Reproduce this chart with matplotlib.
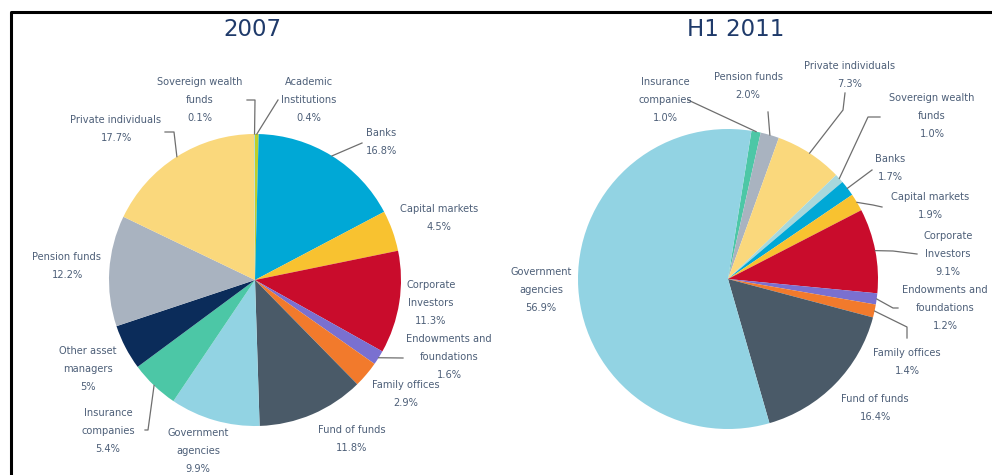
import matplotlib
matplotlib.use('Agg')
import matplotlib.pyplot as plt
import numpy as np

W, H = 992, 475

# 2007 breakdown, clockwise from 12 o'clock
cats_2007 = ['Academic\nInstitutions', 'Banks', 'Capital markets', 'Corporate\nInvestors',
             'Endowments and\nfoundations', 'Family offices', 'Fund of funds',
             'Government\nagencies', 'Insurance\ncompanies', 'Other asset\nmanagers',
             'Pension funds', 'Private individuals', 'Sovereign wealth\nfunds']
vals_2007 = [0.4, 16.8, 4.5, 11.3, 1.6, 2.9, 11.8, 9.9, 5.4, 5.0, 12.2, 17.7, 0.1]
pct_2007 = ['0.4%', '16.8%', '4.5%', '11.3%', '1.6%', '2.9%', '11.8%', '9.9%',
            '5.4%', '5%', '12.2%', '17.7%', '0.1%']
cols_2007 = ['#bccf2c', '#00a8d6', '#f8c230', '#c90c2c', '#7a70d0', '#f27a2c', '#4a5a68',
             '#92d3e3', '#4cc7a6', '#0b2c5a', '#a9b3c0', '#fad87c', '#a8d8dc']

# H1 2011 breakdown, clockwise
cats_2011 = ['Insurance\ncompanies', 'Pension funds', 'Private individuals',
             'Sovereign wealth\nfunds', 'Banks', 'Capital markets', 'Corporate\nInvestors',
             'Endowments and\nfoundations', 'Family offices', 'Fund of funds',
             'Government\nagencies']
vals_2011 = [1.0, 2.0, 7.3, 1.0, 1.7, 1.9, 9.1, 1.2, 1.4, 16.4, 56.9]
pct_2011 = ['1.0%', '2.0%', '7.3%', '1.0%', '1.7%', '1.9%', '9.1%', '1.2%', '1.4%',
            '16.4%', '56.9%']
cols_2011 = ['#4cc7a6', '#a9b3c0', '#fad87c', '#a8d8dc', '#00a8d6', '#f8c230', '#c90c2c',
             '#7a70d0', '#f27a2c', '#4a5a68', '#92d3e3']

# label centre (px) and leader line points (px), line ends on the wedge
lay_2007 = [
    ((309, 100), [(278, 100)]),
    ((381, 142), [(362, 143)]),
    ((439, 218), None),
    ((431, 303), None),
    ((449, 357), [(403, 358)]),
    ((406, 394), None),
    ((352, 439), None),
    ((198, 451), None),
    ((108, 431), [(145, 430), (148, 430)]),
    ((88, 369), None),
    ((67, 266), None),
    ((116, 129), [(165, 132), (174, 132)]),
    ((200, 100), [(247, 100), (255, 100)]),
]
lay_2011 = [
    ((665, 100), [(688, 100)]),
    ((748, 86), [(768, 112)]),
    ((850, 75), [(845, 93), (843, 110)]),
    ((932, 116), [(880, 117), (868, 117)]),
    ((890, 168), [(872, 170)]),
    ((930, 206), [(882, 207), (873, 205)]),
    ((948, 254), [(917, 254), (893, 251)]),
    ((945, 308), [(898, 308), (893, 308)]),
    ((907, 362), [(907, 338), (907, 327)]),
    ((875, 408), None),
    ((541, 290), None),
]

TXT = '#4d5f78'
LINE = '#6e6e6e'

fig = plt.figure(figsize=(W / 100, H / 100), dpi=100)
ax = fig.add_axes([0, 0, 1, 1])


def draw(vals, cols, cats, pcts, lay, cx, cy, r, start, title, tx):
    wedges, _ = ax.pie(vals, colors=cols, startangle=start, counterclock=False,
                       center=(cx, H - cy), radius=r, frame=True,
                       wedgeprops=dict(linewidth=0))
    for w, c, p, (pos, pts) in zip(wedges, cats, pcts, lay):
        ax.text(pos[0], H - pos[1], c + '\n' + p, ha='center', va='center',
                fontsize=7.1, color=TXT, linespacing=1.95)
        if pts:
            a = np.deg2rad((w.theta1 + w.theta2) / 2)
            ex = w.center[0] + w.r * np.cos(a)
            ey = w.center[1] + w.r * np.sin(a)
            xs = [q[0] for q in pts] + [ex]
            ys = [H - q[1] for q in pts] + [ey]
            ax.plot(xs, ys, color=LINE, lw=0.9)
    ax.text(tx, H - 30, title, ha='center', va='center', fontsize=16.5, color='#1f3a6a')


draw(vals_2007, cols_2007, cats_2007, pct_2007, lay_2007, 255, 280, 146, 90, '2007', 252)
draw(vals_2011, cols_2011, cats_2011, pct_2011, lay_2011, 728, 279, 150, 81, 'H1 2011', 736)

ax.set_xlim(0, W)
ax.set_ylim(0, H)
ax.set_aspect('auto')
ax.axis('off')

# outer frame: left and top edges
ax.plot([11, 11, W], [0, H - 12, H - 12], color='black', lw=2.2, solid_capstyle='butt')

fig.savefig('out.png', dpi=100, facecolor='white')
